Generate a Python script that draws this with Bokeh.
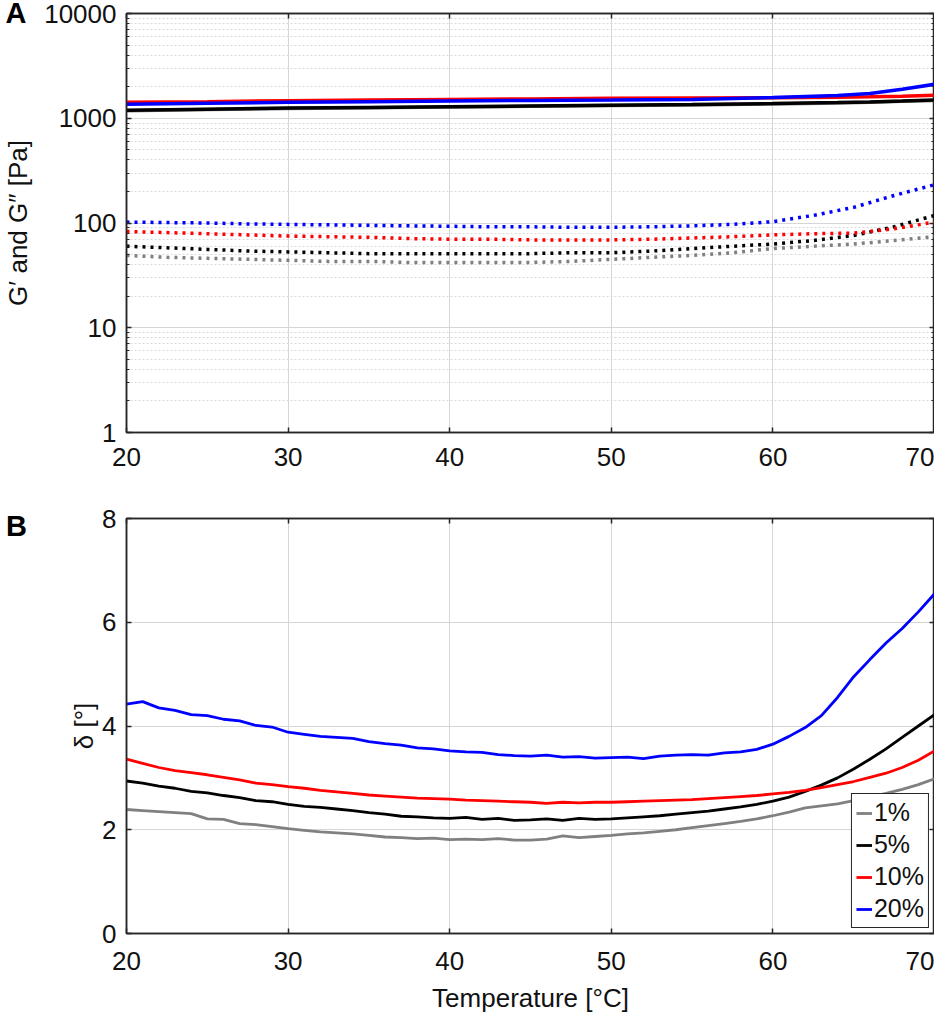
from bokeh.plotting import figure
from bokeh.models import (Range1d, FixedTicker, LinearAxis, LogAxis, Label, Legend, Title,
                          LegendItem, NumeralTickFormatter, CustomJSTickFormatter)
from bokeh.layouts import column
from bokeh.embed import file_html
from bokeh.resources import INLINE

FONT = "Liberation Sans"
TXT = "#111111"
AXC = "#262626"

# ---------------- data ----------------
concentrations = ["1%", "5%", "10%", "20%"]
colors = ["#808080", "#000000", "#ff0000", "#0000ff"]

# Panel A: storage modulus G' (solid lines)
temp_g1 = [20, 25, 30, 35, 40, 45, 50, 55, 60, 62, 64, 66, 68, 70]
g1_1 = [1180, 1210, 1240, 1260, 1280, 1300, 1320, 1340, 1370, 1385, 1400, 1420, 1450, 1480]
g1_5 = [1190, 1220, 1250, 1270, 1290, 1310, 1330, 1350, 1380, 1395, 1410, 1430, 1460, 1495]
g1_10 = [1420, 1440, 1470, 1490, 1510, 1530, 1550, 1560, 1570, 1580, 1590, 1600, 1620, 1660]
g1_20 = [1360, 1390, 1420, 1440, 1460, 1480, 1490, 1510, 1580, 1615, 1650, 1720, 1890, 2110]

# Panel A: loss modulus G'' (dotted lines)
temp_g2 = [20, 22.5, 25, 27.5, 30, 32.5, 35, 37.5, 40, 42.5, 45, 47.5, 50, 52.5, 55,
           57.5, 60, 62.5, 65, 67.5, 70]
g2_1 = [49, 47, 46, 45, 44, 43, 43, 42, 42, 42, 42, 43, 45, 47, 49, 52, 57, 60, 63, 68, 74]
g2_5 = [60, 58, 56, 54, 53, 52, 51, 51, 51, 51, 51, 52, 52, 54, 57, 60, 63, 68, 76, 92, 118]
g2_10 = [83, 81, 79, 77, 75, 74, 73, 71, 70, 70, 69, 69, 69, 70, 72, 74, 77, 79, 80, 88, 102]
g2_20 = [102, 101, 100, 98, 97, 96, 95, 94, 93, 92, 92, 91, 91, 92, 94, 97, 103, 118, 141, 183, 232]

# Panel B: phase angle delta
temp_d = list(range(20, 71))
d_1 = [2.39, 2.37, 2.35, 2.33, 2.31, 2.21, 2.20, 2.12, 2.10, 2.06, 2.02, 1.99, 1.96, 1.94,
       1.92, 1.89, 1.86, 1.85, 1.83, 1.84, 1.81, 1.82, 1.81, 1.83, 1.80, 1.80, 1.82, 1.88,
       1.85, 1.87, 1.89, 1.92, 1.94, 1.97, 2.00, 2.04, 2.08, 2.12, 2.16, 2.21, 2.27, 2.34,
       2.42, 2.46, 2.50, 2.56, 2.63, 2.70, 2.78, 2.87, 2.98]
d_5 = [2.94, 2.90, 2.84, 2.80, 2.74, 2.71, 2.66, 2.62, 2.56, 2.54, 2.49, 2.45, 2.43, 2.40,
       2.37, 2.33, 2.30, 2.26, 2.25, 2.23, 2.22, 2.24, 2.20, 2.22, 2.18, 2.19, 2.21, 2.18,
       2.22, 2.20, 2.21, 2.23, 2.25, 2.27, 2.30, 2.33, 2.36, 2.40, 2.44, 2.49, 2.55, 2.63,
       2.74, 2.86, 3.00, 3.17, 3.36, 3.56, 3.78, 4.00, 4.22]
d_10 = [3.36, 3.28, 3.20, 3.14, 3.10, 3.06, 3.01, 2.96, 2.90, 2.87, 2.83, 2.80, 2.76, 2.73,
        2.70, 2.67, 2.65, 2.63, 2.61, 2.60, 2.59, 2.57, 2.56, 2.55, 2.54, 2.53, 2.51, 2.53,
        2.52, 2.53, 2.53, 2.54, 2.55, 2.56, 2.57, 2.58, 2.60, 2.62, 2.64, 2.66, 2.69, 2.72,
        2.76, 2.81, 2.87, 2.93, 3.01, 3.09, 3.20, 3.34, 3.52]
d_20 = [4.42, 4.47, 4.35, 4.30, 4.22, 4.20, 4.13, 4.10, 4.01, 3.98, 3.88, 3.84, 3.80, 3.78,
        3.76, 3.70, 3.66, 3.63, 3.58, 3.56, 3.52, 3.50, 3.49, 3.45, 3.43, 3.42, 3.44, 3.40,
        3.41, 3.38, 3.39, 3.40, 3.37, 3.42, 3.44, 3.45, 3.44, 3.48, 3.50, 3.55, 3.65, 3.80,
        3.97, 4.20, 4.55, 4.95, 5.28, 5.60, 5.88, 6.20, 6.55]

x_ticks = [20, 30, 40, 50, 60, 70]
a_major = [1, 10, 100, 1000, 10000]
a_minor = [m * d for d in [1, 10, 100, 1000] for m in range(2, 10)]
b_ticks = [0, 2, 4, 6, 8]


def style_axis(ax, labels=True):
    ax.axis_line_color = AXC
    ax.axis_line_width = 1.5
    ax.major_tick_in = 5
    ax.major_tick_out = 0
    ax.minor_tick_in = 3
    ax.minor_tick_out = 0
    ax.major_tick_line_color = AXC
    ax.major_tick_line_width = 1.5
    ax.minor_tick_line_color = AXC
    ax.minor_tick_line_width = 1
    ax.major_label_text_font = FONT
    ax.major_label_text_color = TXT
    ax.axis_label_text_font = FONT
    ax.axis_label_text_font_size = "26px"
    ax.axis_label_text_font_style = "normal"
    ax.axis_label_text_color = TXT
    if labels:
        ax.major_label_text_font_size = "26px"
        ax.major_label_standoff = 10
        ax.axis_label_standoff = 8
    else:
        ax.formatter = CustomJSTickFormatter(code="return ''")
        ax.major_label_text_font_size = "2px"
        ax.major_label_standoff = 0


def common(p):
    p.outline_line_color = AXC
    p.outline_line_width = 1.5
    p.outline_line_alpha = 1
    p.xgrid.grid_line_color = "#d6d6d6"
    p.ygrid.grid_line_color = "#d6d6d6"
    p.background_fill_color = "white"
    p.border_fill_color = "white"


# ---------------- panel A ----------------
xtA = FixedTicker(ticks=x_ticks, minor_ticks=[])
ytA = FixedTicker(ticks=a_major, minor_ticks=a_minor)
pA = figure(width=934, height=490, x_range=Range1d(20, 70), y_range=Range1d(1, 10000),
            y_axis_type="log", output_backend="svg", toolbar_location=None,
            min_border_left=120, min_border_right=0, min_border_top=13, min_border_bottom=58)
common(pA)
pA.xaxis.ticker = xtA
pA.yaxis.ticker = ytA
pA.yaxis.formatter = NumeralTickFormatter(format="0")
pA.xgrid.ticker = xtA
pA.ygrid.ticker = ytA
pA.ygrid.minor_grid_line_color = "#d9d9d9"
pA.ygrid.minor_grid_line_dash = "2 2"
style_axis(pA.xaxis[0])
style_axis(pA.yaxis[0])
pA.xaxis.major_label_standoff = 15
pA.yaxis.axis_label = "G\u2032 and G\u2033 [Pa]"
topA = LinearAxis(ticker=xtA)
style_axis(topA, labels=False)
pA.add_layout(topA, "above")
rightA = LogAxis(ticker=ytA)
style_axis(rightA, labels=False)
pA.add_layout(rightA, "right")

g1_series = [g1_1, g1_5, g1_10, g1_20]
g2_series = [g2_1, g2_5, g2_10, g2_20]
for vals, c in zip(g2_series, colors):
    pA.line(temp_g2, vals, line_color=c, line_width=3.5, line_dash="3 5")
for vals, c in zip(g1_series, colors):
    pA.line(temp_g1, vals, line_color=c, line_width=3.5)

pA.add_layout(Title(text="A", align="left", offset=-121, vertical_align="bottom", standoff=-30,
                    text_font=FONT, text_font_size="29px", text_font_style="bold",
                    text_color="black"), "above")

# ---------------- panel B ----------------
xtB = FixedTicker(ticks=x_ticks, minor_ticks=[])
ytB = FixedTicker(ticks=b_ticks, minor_ticks=[])
pB = figure(width=934, height=525, x_range=Range1d(20, 70), y_range=Range1d(0, 8),
            output_backend="svg", toolbar_location=None,
            min_border_left=120, min_border_right=0, min_border_top=28, min_border_bottom=80)
common(pB)
pB.xaxis.ticker = xtB
pB.yaxis.ticker = ytB
pB.xgrid.ticker = xtB
pB.ygrid.ticker = ytB
style_axis(pB.xaxis[0])
style_axis(pB.yaxis[0])
pB.xaxis.major_label_standoff = 18
pB.xaxis.axis_label = "Temperature [\u00b0C]"
pB.xaxis.axis_label_standoff = 10
pB.yaxis.axis_label = "\u03b4 [\u00b0]"
pB.yaxis.axis_label_standoff = 0
topB = LinearAxis(ticker=xtB)
style_axis(topB, labels=False)
pB.add_layout(topB, "above")
rightB = LinearAxis(ticker=ytB)
style_axis(rightB, labels=False)
pB.add_layout(rightB, "right")

d_series = [d_1, d_5, d_10, d_20]
renderers = []
for vals, c in zip(d_series, colors):
    renderers.append(pB.line(temp_d, vals, line_color=c, line_width=2.8))

legend = Legend(items=[LegendItem(label=l, renderers=[r]) for l, r in zip(concentrations, renderers)],
                location="bottom_right", label_text_font=FONT, label_text_font_size="25px",
                label_text_color=TXT, glyph_width=16, glyph_height=24, label_height=24,
                label_standoff=2, spacing=3, padding=4, margin=5,
                border_line_color=AXC, border_line_width=1.2, border_line_alpha=1,
                background_fill_color="white", background_fill_alpha=1)
pB.add_layout(legend)

pB.add_layout(Label(x=20, y=8, x_offset=-110, y_offset=-7, text="B", text_font=FONT,
                    text_font_size="29px", text_font_style="bold", text_color="black",
                    text_align="center", text_baseline="middle"), "left")

layout = column(pA, pB, spacing=0)
open("out.html", "w").write(file_html(layout, INLINE))
